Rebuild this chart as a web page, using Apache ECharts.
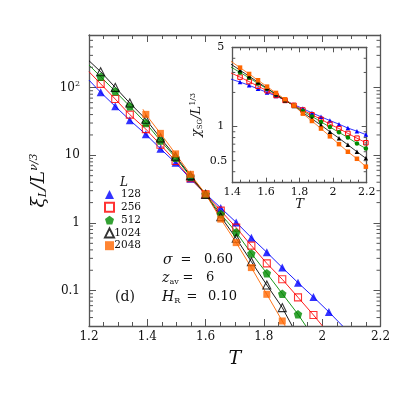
<!DOCTYPE html>
<html>
<head>
<meta charset="utf-8">
<script src="https://cdn.jsdelivr.net/npm/echarts@6/dist/echarts.min.js"></script>
<style>
  html, body { margin: 0; padding: 0; background: #fff; }
  #chart { width: 415px; height: 415px; }
</style>
</head>
<body>
<div id="chart"></div>
<script>
var FONT = '"DejaVu Serif", "Liberation Serif", serif';

// ---- main panel: xi_L / L^(nu/3) against T ----
var tMain = [1.24, 1.29, 1.34, 1.395, 1.445, 1.497, 1.548, 1.60, 1.652, 1.705, 1.757, 1.81, 1.863, 1.917, 1.97, 2.023];
var xi128 = [85.2, 52.9, 33.1, 20.4, 12.5, 7.74, 4.49, 2.70, 1.67, 1.02, 0.607, 0.368, 0.219, 0.131, 0.0804, 0.0483];
var xi256 = [113.8, 67.8, 39.9, 24.4, 14.3, 8.23, 4.57, 2.65, 1.52, 0.853, 0.463, 0.253, 0.147, 0.0796, 0.0436];
var xi512 = [145, 88.2, 52.9, 30.0, 16.5, 9.24, 4.84, 2.65, 1.356, 0.726, 0.355, 0.180, 0.0902, 0.0447];
var xi1024 = [172, 101, 59.2, 34.2, 18.0, 9.66, 5.01, 2.65, 1.24, 0.593, 0.268, 0.121, 0.0561];
var xi2048 = [40.3, 21.1, 10.5, 5.23, 2.68, 1.14, 0.512, 0.219, 0.0882, 0.0356];
var first2048 = 3; // L=2048 starts at T=1.395

// where the fitted lines meet the frame
var fitStartT = [1.2, 1.2, 1.2, 1.2, 1.385];
var fitStartV = [129, 172, 216, 250, 48];
var fitEndT = [2.07, 2.001, 1.944, 1.897, 1.873];
var fitEndV = [0.03, 0.03, 0.03, 0.03, 0.03];

// ---- inset: chi_SG / L^(1/3) against T ----
var tInset = [1.392, 1.446, 1.50, 1.553, 1.607, 1.66, 1.714, 1.767, 1.82, 1.874, 1.928, 1.981, 2.035, 2.088, 2.142, 2.195];
var chi128 = [2.62, 2.47, 2.31, 2.15, 2.00, 1.86, 1.71, 1.56, 1.44, 1.32, 1.22, 1.13, 1.05, 0.97, 0.91, 0.85];
var chi256 = [2.97, 2.73, 2.49, 2.27, 2.07, 1.88, 1.70, 1.54, 1.40, 1.27, 1.16, 1.05, 0.96, 0.87, 0.79, 0.72];
var chi512 = [3.35, 3.00, 2.69, 2.40, 2.15, 1.92, 1.71, 1.53, 1.37, 1.23, 1.10, 0.99, 0.89, 0.80, 0.71, 0.64];
var chi1024 = [3.55, 3.14, 2.78, 2.46, 2.18, 1.93, 1.71, 1.52, 1.33, 1.17, 1.03, 0.90, 0.79, 0.69, 0.60, 0.525];
var chi2048 = [3.76, 3.31, 2.91, 2.56, 2.25, 1.98, 1.74, 1.53, 1.30, 1.12, 0.96, 0.82, 0.70, 0.60, 0.52, 0.443];

// ---- ticks ----
var mainMinorTicks = [0.04, 0.05, 0.06, 0.07, 0.08, 0.09, 0.2, 0.3, 0.4, 0.5, 0.6, 0.7, 0.8, 0.9,
  2, 3, 4, 5, 6, 7, 8, 9, 20, 30, 40, 50, 60, 70, 80, 90, 200, 300, 400, 500];
var insetMinorTicks = [0.4, 0.5, 0.6, 0.7, 0.8, 0.9, 2, 3, 4];
var insetExtraLabels = [0.5];

var sizes = ['128', '256', '512', '1024', '2048'];
var colors = ['#0000ff', '#ff0000', '#008a00', '#000000', '#ff6600'];
var PENTAGON = 'path://M0,-10L9.51,-3.09L5.88,8.09L-5.88,8.09L-9.51,-3.09Z';
var mainSym = ['triangle', 'rect', PENTAGON, 'triangle', 'rect'];
var mainSymSize = [8, 7, 8.5, 8, 7];
var mainOpen = [false, true, false, true, false];
var insetSym = ['triangle', 'rect', 'circle', 'triangle', 'rect'];
var insetOpen = [false, true, false, false, false];

var xiData = [xi128, xi256, xi512, xi1024, xi2048];
var xiFirst = [0, 0, 0, 0, first2048];
var chiData = [chi128, chi256, chi512, chi1024, chi2048];

var AXIS = '#555';

function pairs(ts, vs, offset) {
  var out = [];
  for (var i = 0; i < vs.length; i++) out.push([ts[i + offset], vs[i]]);
  return out;
}

function xAxisCfg(grid, min, max, pos, showLabel, fs, major, minor, name, nameGap, nameSize) {
  return {
    type: 'value', gridIndex: grid, position: pos, min: min, max: max, interval: 0.2,
    axisLine: { show: true, onZero: false, lineStyle: { color: AXIS, width: 1.3 } },
    axisTick: { show: true, inside: true, length: major, lineStyle: { color: AXIS } },
    minorTick: { show: true, splitNumber: 4, length: minor, lineStyle: { color: AXIS } },
    splitLine: { show: false },
    axisLabel: {
      show: showLabel, margin: grid === 0 ? 5 : 4, color: '#111', fontFamily: FONT, fontSize: fs,
      formatter: function (v) { return String(+v.toFixed(1)); }
    },
    name: name, nameLocation: 'middle', nameGap: nameGap,
    nameTextStyle: { fontFamily: FONT, fontStyle: 'italic', fontSize: nameSize, color: '#111' }
  };
}

function yAxisCfg(grid, min, max, pos, showLabel, fs, major, formatter, margin, showMax) {
  return {
    type: 'log', logBase: 10, gridIndex: grid, position: pos, min: min, max: max,
    axisLine: { show: true, onZero: false, lineStyle: { color: AXIS, width: 1.3 } },
    axisTick: { show: true, inside: true, length: major, lineStyle: { color: AXIS } },
    minorTick: { show: false },
    splitLine: { show: false },
    axisLabel: {
      show: showLabel, margin: margin, color: '#111', fontFamily: FONT, fontSize: fs,
      showMinLabel: false, showMaxLabel: showMax, formatter: formatter,
      rich: { sup: { fontFamily: FONT, fontSize: 8, padding: [0, 0, 7, 0], color: '#111' } }
    }
  };
}

function mainYLabel(v) {
  var e = Math.round(Math.log10(v));
  if (e >= 2) return '10{sup|' + e + '}';
  return String(+v.toPrecision(3));
}
function insetYLabel(v) {
  return String(+v.toPrecision(2));
}

function logTickSeries(xi, yi, xmin, values, len, labels) {
  return {
    type: 'custom', xAxisIndex: xi, yAxisIndex: yi, silent: true, z: 5, clip: false,
    data: values.map(function (v) { return [xmin, v]; }),
    renderItem: function (params, api) {
      var cs = params.coordSys;
      var p = api.coord([api.value(0), api.value(1)]);
      var y = p[1];
      if (labels) {
        return {
          type: 'text', x: cs.x - 5, y: y,
          style: { text: String(api.value(1)), fill: '#111', font: '11px ' + FONT, align: 'right', verticalAlign: 'middle' }
        };
      }
      return {
        type: 'group', children: [
          { type: 'line', shape: { x1: cs.x, y1: y, x2: cs.x + len, y2: y }, style: { stroke: AXIS, lineWidth: 1 } },
          { type: 'line', shape: { x1: cs.x + cs.width - len, y1: y, x2: cs.x + cs.width, y2: y }, style: { stroke: AXIS, lineWidth: 1 } }
        ]
      };
    }
  };
}

var series = [];
for (var k = 0; k < 5; k++) {
  var pts = pairs(tMain, xiData[k], xiFirst[k]);
  var fit = [[fitStartT[k], fitStartV[k]]].concat(pts, [[fitEndT[k], fitEndV[k]]]);
  series.push({
    name: sizes[k] + ' fit', type: 'line', xAxisIndex: 0, yAxisIndex: 0, data: fit,
    showSymbol: false, silent: true, clip: true,
    lineStyle: { color: colors[k], width: 0.9 }, z: 2
  });
  series.push({
    name: sizes[k], type: 'scatter', xAxisIndex: 0, yAxisIndex: 0, data: pts,
    symbol: mainSym[k], symbolSize: mainSymSize[k], z: 3,
    itemStyle: mainOpen[k]
      ? { color: 'rgba(255,255,255,0)', borderColor: colors[k], borderWidth: 1.1 }
      : { color: colors[k] }
  });
  series.push({
    name: sizes[k] + ' inset', type: 'line', xAxisIndex: 2, yAxisIndex: 2,
    data: pairs(tInset, chiData[k], 0), clip: true,
    symbol: insetSym[k], symbolSize: 4.5, showAllSymbol: true,
    lineStyle: { color: colors[k], width: 0.8 },
    itemStyle: insetOpen[k]
      ? { color: 'rgba(255,255,255,0)', borderColor: colors[k], borderWidth: 1 }
      : { color: colors[k] },
    z: 3
  });
}
series.push(logTickSeries(0, 0, 1.2, mainMinorTicks, 4, false));
series.push(logTickSeries(2, 2, 1.4, insetMinorTicks, 3, false));
series.push(logTickSeries(2, 2, 1.4, insetExtraLabels, 0, true));

var chart = echarts.init(document.getElementById('chart'), null, { renderer: 'canvas' });
chart.setOption({
  animation: false,
  backgroundColor: '#fff',
  textStyle: { fontFamily: FONT },
  grid: [
    { left: 89, top: 35, width: 291.5, height: 291, containLabel: false },
    { left: 232.3, top: 47.3, width: 134.4, height: 135.4, containLabel: false }
  ],
  xAxis: [
    xAxisCfg(0, 1.2, 2.2, 'bottom', true, 12, 7, 4, 'T', 24, 19),
    xAxisCfg(0, 1.2, 2.2, 'top', false, 12, 7, 4, '', 0, 12),
    xAxisCfg(1, 1.4, 2.2, 'bottom', true, 11, 5, 3, 'T', 14, 13),
    xAxisCfg(1, 1.4, 2.2, 'top', false, 11, 5, 3, '', 0, 12)
  ],
  yAxis: [
    Object.assign(yAxisCfg(0, 0.03, 600, 'left', true, 12, 7, mainYLabel, 9, false), {
      name: '{i|ξ}{sub|L}{i|/L}{sup|ν/3}', nameLocation: 'middle', nameGap: 37, nameRotate: 90,
      nameTextStyle: {
        rich: {
          i: { fontFamily: FONT, fontStyle: 'italic', fontSize: 19, color: '#111' },
          sub: { fontFamily: FONT, fontStyle: 'italic', fontSize: 11, padding: [9, 0, 0, 0], color: '#111' },
          sup: { fontFamily: FONT, fontStyle: 'italic', fontSize: 11, padding: [0, 0, 9, 0], color: '#111' }
        }
      }
    }),
    yAxisCfg(0, 0.03, 600, 'right', false, 12, 7, mainYLabel, 9, false),
    Object.assign(yAxisCfg(1, 0.32, 5, 'left', true, 11, 5, insetYLabel, 8, true), {
      name: '{i|χ}{sub|SG}{i|/L}{sup|1/3}', nameLocation: 'middle', nameGap: 28, nameRotate: 90,
      nameTextStyle: {
        rich: {
          i: { fontFamily: FONT, fontStyle: 'italic', fontSize: 13, color: '#111' },
          sub: { fontFamily: FONT, fontSize: 7, padding: [6, 0, 0, 0], color: '#111' },
          sup: { fontFamily: FONT, fontSize: 8, padding: [0, 0, 7, 0], color: '#111' }
        }
      }
    }),
    yAxisCfg(1, 0.32, 5, 'right', false, 11, 5, insetYLabel, 8, false)
  ],
  legend: {
    data: sizes, orient: 'vertical', left: 104, top: 189, padding: 0,
    itemWidth: 9, itemHeight: 9, itemGap: 1.8, selectedMode: false,
    formatter: '{r|{name}}',
    textStyle: {
      color: '#111',
      rich: { r: { width: 22, align: 'right', fontFamily: FONT, fontSize: 10.5, lineHeight: 12 } }
    }
  },
  graphic: [
    { type: 'text', x: 124, y: 183, style: { text: 'L', font: 'italic 12px ' + FONT, fill: '#111', align: 'center', verticalAlign: 'middle' } },
    { type: 'text', x: 163, y: 260, style: { text: 'σ', font: 'italic 14px ' + FONT, fill: '#111', align: 'left', verticalAlign: 'middle' } },
    { type: 'text', x: 186, y: 260, style: { text: '=', font: '13px ' + FONT, fill: '#111', align: 'center', verticalAlign: 'middle' } },
    { type: 'text', x: 204, y: 260, style: { text: '0.60', font: '13px ' + FONT, fill: '#111', align: 'left', verticalAlign: 'middle' } },
    { type: 'text', x: 162, y: 278, style: {
      text: '{i|z}{s|av}', fill: '#111', align: 'left', verticalAlign: 'middle',
      rich: { i: { font: 'italic 14px ' + FONT }, s: { font: '8px ' + FONT, padding: [7, 0, 0, 0] } }
    } },
    { type: 'text', x: 188, y: 278, style: { text: '=', font: '13px ' + FONT, fill: '#111', align: 'center', verticalAlign: 'middle' } },
    { type: 'text', x: 206, y: 278, style: { text: '6', font: '13px ' + FONT, fill: '#111', align: 'left', verticalAlign: 'middle' } },
    { type: 'text', x: 162, y: 297, style: {
      text: '{i|H}{s|R}', fill: '#111', align: 'left', verticalAlign: 'middle',
      rich: { i: { font: 'italic 14px ' + FONT }, s: { font: '8px ' + FONT, padding: [7, 0, 0, 0] } }
    } },
    { type: 'text', x: 192, y: 297, style: { text: '=', font: '13px ' + FONT, fill: '#111', align: 'center', verticalAlign: 'middle' } },
    { type: 'text', x: 208, y: 297, style: { text: '0.10', font: '13px ' + FONT, fill: '#111', align: 'left', verticalAlign: 'middle' } },
    { type: 'text', x: 125, y: 297, style: { text: '(d)', font: '14px ' + FONT, fill: '#111', align: 'center', verticalAlign: 'middle' } }
  ],
  series: series
});
</script>
</body>
</html>
